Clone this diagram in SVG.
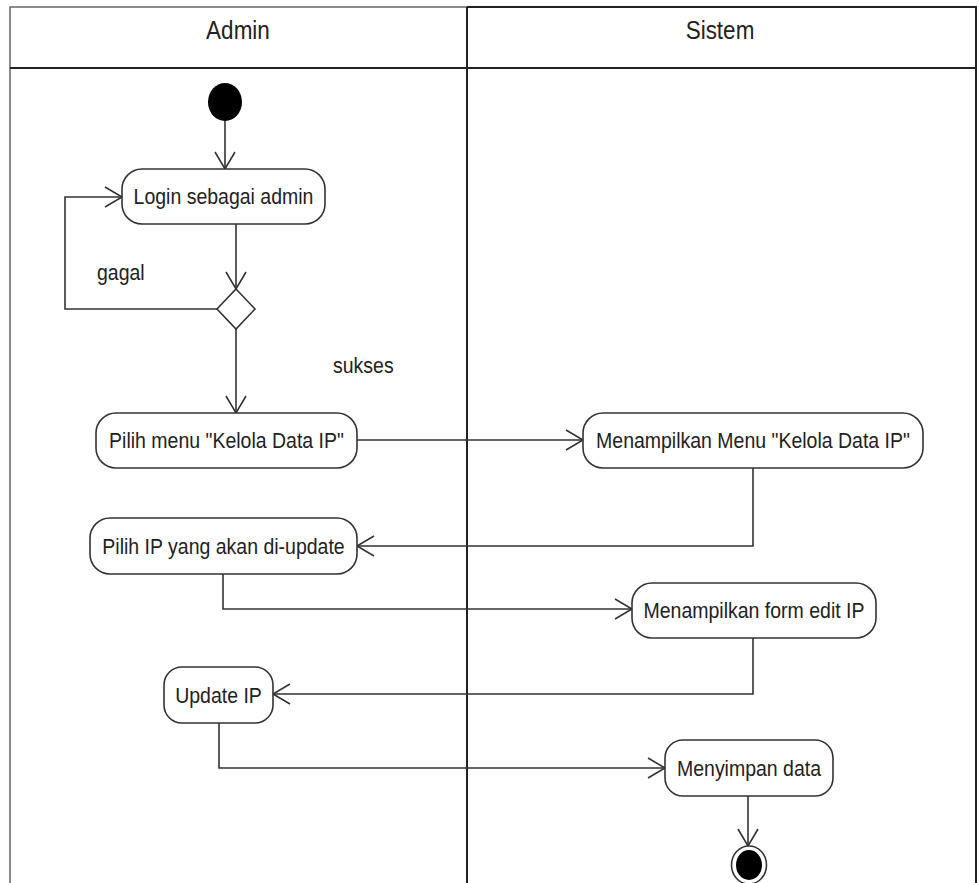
<svg xmlns="http://www.w3.org/2000/svg" width="979" height="883" viewBox="0 0 979 883">
  <defs>
    <style>
      .lane { fill: none; stroke: #222; stroke-width: 2; }
      .lane-light { fill: none; stroke: #666; stroke-width: 1.5; }
      .act { fill: #fff; stroke: #333; stroke-width: 1.6; }
      .label { font-family: "Liberation Sans", Arial, sans-serif; font-size: 19.5px; fill: #222; }
      .head { font-size: 22.5px; }
      .mid { text-anchor: middle; }
      .flow { fill: none; stroke: #333; stroke-width: 1.6; marker-end: url(#open); }
      .deco { fill: #fff; stroke: #333; stroke-width: 1.6; }
    </style>
    <marker id="open" markerUnits="userSpaceOnUse" markerWidth="20" markerHeight="24" viewBox="0 0 20 24" refX="18" refY="12" orient="auto">
      <path d="M1,2 L18,12 L1,22" fill="none" stroke="#333" stroke-width="1.6"/>
    </marker>
  </defs>
  <rect width="979" height="883" fill="#fff"/>

  <!-- swimlane frame -->
  <g id="lanes">
    <path class="lane-light" d="M10,883 V7 H467"/>
    <path class="lane" d="M467,7 H976 V883"/>
    <path class="lane" d="M10,68 H976"/>
    <path class="lane" d="M467,7 V883"/>
    <text class="label head mid" transform="translate(238,39) scale(1,1.12)">Admin</text>
    <text class="label head mid" transform="translate(720,39) scale(1,1.12)">Sistem</text>
  </g>

  <!-- connectors -->
  <g id="connectors">
    <path class="flow" d="M225,121 V169"/>
    <path class="flow" d="M236,224 V289"/>
    <path class="flow" d="M217,309 H65 V197 H122"/>
    <path class="flow" d="M236,329 V413"/>
    <path class="flow" d="M357,440 H583"/>
    <path class="flow" d="M753,468 V546 H357"/>
    <path class="flow" d="M223,574 V609 H632"/>
    <path class="flow" d="M753,638 V694 H273"/>
    <path class="flow" d="M219,723 V768 H665"/>
    <path class="flow" d="M748,796 V846"/>
    <text class="label" transform="translate(97,280) scale(1,1.15)">gagal</text>
    <text class="label" transform="translate(333,373) scale(1,1.15)">sukses</text>
  </g>

  <g id="start">
    <ellipse cx="225" cy="102" rx="17" ry="19" fill="#000"/>
  </g>

  <g id="login">
    <rect class="act" x="122" y="169" width="203" height="55" rx="20"/>
    <text class="label mid" transform="translate(223.5,204) scale(1,1.15)">Login sebagai admin</text>
  </g>

  <g id="decision">
    <path class="deco" d="M236,289 L255,309 L236,329 L217,309 Z"/>
  </g>

  <g id="pilih-menu">
    <rect class="act" x="96" y="413" width="261" height="55" rx="20"/>
    <text class="label mid" transform="translate(226.5,448) scale(1,1.15)">Pilih menu "Kelola Data IP"</text>
  </g>

  <g id="tampil-menu">
    <rect class="act" x="583" y="413" width="340" height="55" rx="20"/>
    <text class="label mid" transform="translate(753,448) scale(1,1.15)">Menampilkan Menu "Kelola Data IP"</text>
  </g>

  <g id="pilih-ip">
    <rect class="act" x="90" y="518" width="267" height="56" rx="20"/>
    <text class="label mid" transform="translate(223.5,553.5) scale(1,1.15)">Pilih IP yang akan di-update</text>
  </g>

  <g id="tampil-form">
    <rect class="act" x="632" y="583" width="244" height="55" rx="20"/>
    <text class="label mid" transform="translate(754,618) scale(1,1.15)">Menampilkan form edit IP</text>
  </g>

  <g id="update-ip">
    <rect class="act" x="164" y="667" width="109" height="56" rx="18"/>
    <text class="label mid" transform="translate(218.5,702.5) scale(1,1.15)">Update IP</text>
  </g>

  <g id="simpan">
    <rect class="act" x="665" y="740" width="168" height="56" rx="18"/>
    <text class="label mid" transform="translate(749,775.5) scale(1,1.15)">Menyimpan data</text>
  </g>

  <g id="end">
    <ellipse cx="749" cy="865" rx="17.5" ry="19" fill="#fff" stroke="#333" stroke-width="1.6"/>
    <ellipse cx="749" cy="865" rx="13" ry="15" fill="#000"/>
  </g>
</svg>
